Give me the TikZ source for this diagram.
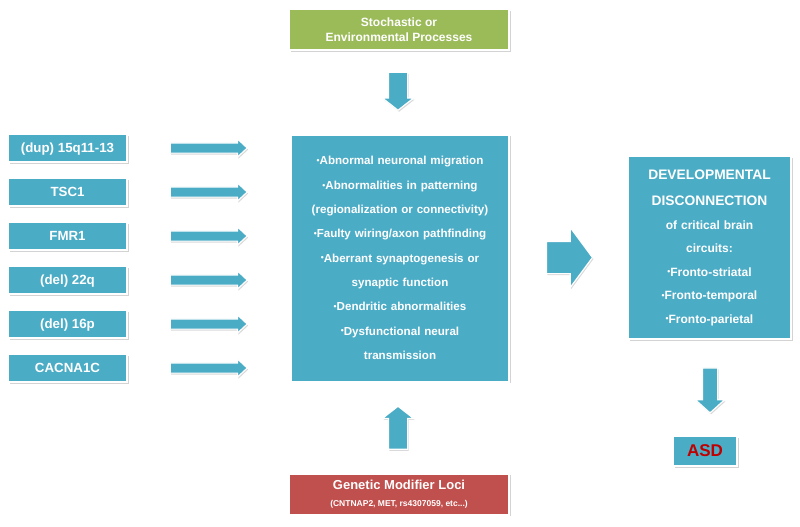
\documentclass[tikz,border=0pt]{standalone}
\usepackage{fontspec}
\setmainfont{Liberation Sans}
\usetikzlibrary{shapes.arrows,shadows}

\definecolor{boxblue}{HTML}{4BACC6}
\definecolor{boxgreen}{HTML}{9BBB59}
\definecolor{boxred}{HTML}{C0504D}
\definecolor{asdred}{HTML}{C00000}

\newcommand{\bul}{\raisebox{0.2ex}{\fontsize{8.5}{8.5}\selectfont\textbullet}}

\tikzset{
    box/.style={draw=white, line width=2pt, fill=boxblue, text=white, inner sep=0pt,
        align=center, drop shadow={shadow xshift=1.5pt, shadow yshift=-1.8pt, opacity=0.35}},
    genebox/.style={box, minimum width=119, minimum height=28, text height=11pt, text depth=2pt,
        font=\bfseries\fontsize{13.3}{14}\selectfont},
    blockarrow/.style={single arrow, draw=white, line width=1.2pt, fill=boxblue,
        single arrow head indent=0pt,
        drop shadow={shadow xshift=1pt, shadow yshift=-1.5pt, opacity=0.3}},
}

\begin{document}
\begin{tikzpicture}[x=1pt,y=-1pt]

    \useasboundingbox (0,0) rectangle (800,527);

    % genes on the left
    \foreach \name [count=\i from 0] in {(dup) 15q11-13,TSC1,FMR1,(del) 22q,(del) 16p,CACNA1C} {
        \node[genebox] (gene\i) at (67.5,148+44*\i) {\name};
        \node[blockarrow, inner sep=4.5pt, minimum height=77, single arrow head extend=4,
            single arrow tip angle=86] (garrow\i) at (206,148+44*\i) {};
    }

    % central box
    \node[box, minimum width=218, minimum height=247, text width=218,
        font=\bfseries\fontsize{11.6}{24.3}\selectfont] (mech) at (400,258)
        {\bul Abnormal neuronal migration\\
         \bul Abnormalities in patterning\\
         (regionalization or connectivity)\\
         \bul Faulty wiring/axon pathfinding\\
         \bul Aberrant synaptogenesis or\\
         synaptic function\\
         \bul Dendritic abnormalities\\
         \bul Dysfunctional neural\\
         transmission};

    % top and bottom influences
    \node[box, fill=boxgreen, minimum width=220, minimum height=41,
        font=\bfseries\fontsize{12}{15}\selectfont] (env) at (399,29.5)
        {Stochastic or\\Environmental Processes};
    \node[blockarrow, shape border rotate=270, inner sep=9pt, minimum height=38,
        single arrow head extend=6, single arrow tip angle=104] (envarrow) at (398,87.5) {};

    \node[box, fill=boxred, minimum width=220, minimum height=41,
        font=\bfseries\fontsize{13}{17}\selectfont] (loci) at (399,494)
        {Genetic Modifier Loci\\{\fontsize{8.5}{10}\selectfont(CNTNAP2, MET, rs4307059, etc...)}};
    \node[blockarrow, shape border rotate=90, inner sep=9pt, minimum height=43,
        single arrow head extend=6, single arrow tip angle=104] (lociarrow) at (398,431.5) {};

    % right side
    \node[blockarrow, inner sep=15.5pt, minimum height=46, single arrow head extend=14,
        single arrow tip angle=107] (bigarrow) at (563.5,257.5) {};

    \node[box, minimum width=163, minimum height=183, text width=163,
        font=\bfseries\fontsize{12}{23.5}\selectfont] (disc) at (709.5,247.5)
        {{\fontsize{13.8}{23.5}\selectfont DEVELOPMENTAL}\\[3pt]
         {\fontsize{13.8}{23.5}\selectfont DISCONNECTION}\\
         of critical brain\\
         circuits:\\
         \bul Fronto-striatal\\
         \bul Fronto-temporal\\
         \bul Fronto-parietal};

    \node[blockarrow, shape border rotate=270, inner sep=7pt, minimum height=45,
        single arrow head extend=7, single arrow tip angle=96] (asdarrow) at (710,387) {};

    \node[box, text=asdred, minimum width=64, minimum height=30,
        font=\bfseries\fontsize{17}{17}\selectfont] (asd) at (705,451) {ASD};

\end{tikzpicture}
\end{document}
